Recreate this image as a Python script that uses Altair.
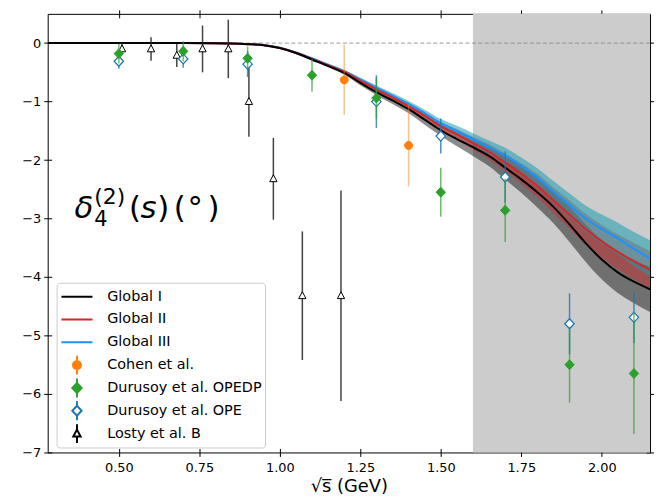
import altair as alt
import pandas as pd

# ---------------- data ----------------
curve_x = [0.279, 0.5, 0.7, 0.8, 0.85, 0.9, 0.95, 1.0, 1.05, 1.1, 1.15, 1.2, 1.25, 1.3, 1.35, 1.4,
           1.45, 1.5, 1.55, 1.6, 1.65, 1.7, 1.75, 1.8, 1.85, 1.9, 1.95, 2.0, 2.05, 2.1, 2.15]
global1 = [0, 0, 0, -0.002, -0.007, -0.018, -0.035, -0.085, -0.17, -0.28, -0.39, -0.51, -0.68, -0.84,
           -0.98, -1.13, -1.31, -1.49, -1.64, -1.78, -1.93, -2.13, -2.33, -2.55, -2.80, -3.10, -3.42,
           -3.70, -3.92, -4.08, -4.21]
global2 = [0, 0, 0, -0.002, -0.007, -0.018, -0.035, -0.085, -0.165, -0.27, -0.38, -0.49, -0.64, -0.79,
           -0.93, -1.08, -1.24, -1.42, -1.56, -1.71, -1.86, -2.04, -2.23, -2.44, -2.69, -2.93, -3.18,
           -3.39, -3.57, -3.73, -3.88]
global3 = [0, 0, 0, -0.002, -0.007, -0.017, -0.033, -0.08, -0.16, -0.26, -0.37, -0.48, -0.62, -0.76,
           -0.90, -1.04, -1.20, -1.37, -1.50, -1.64, -1.78, -1.92, -2.10, -2.30, -2.54, -2.77, -3.00,
           -3.18, -3.34, -3.52, -3.68]

band_x = [0.95, 1.0, 1.05, 1.1, 1.15, 1.2, 1.25, 1.3, 1.35, 1.4, 1.45, 1.5, 1.55, 1.6, 1.65, 1.7,
          1.75, 1.8, 1.85, 1.9, 1.95, 2.0, 2.05, 2.1, 2.15]
g1_lo = [-0.040, -0.095, -0.185, -0.30, -0.415, -0.54, -0.72, -0.89, -1.04, -1.20, -1.395, -1.59, -1.765,
         -1.93, -2.105, -2.33, -2.56, -2.81, -3.08, -3.40, -3.74, -4.04, -4.275, -4.45, -4.60]
g1_hi = [-0.030, -0.075, -0.155, -0.26, -0.365, -0.48, -0.64, -0.79, -0.92, -1.06, -1.225, -1.39, -1.515,
         -1.63, -1.755, -1.93, -2.10, -2.29, -2.52, -2.80, -3.10, -3.36, -3.565, -3.71, -3.82]
g2_lo = [-0.04, -0.095, -0.177, -0.285, -0.40, -0.515, -0.67, -0.825, -0.975, -1.13, -1.30, -1.49, -1.65,
         -1.82, -1.99, -2.19, -2.405, -2.64, -2.91, -3.17, -3.44, -3.67, -3.865, -4.04, -4.20]
g2_hi = [-0.03, -0.075, -0.153, -0.255, -0.36, -0.465, -0.61, -0.755, -0.885, -1.03, -1.18, -1.35, -1.47,
         -1.60, -1.73, -1.89, -2.055, -2.24, -2.47, -2.69, -2.92, -3.11, -3.275, -3.42, -3.56]
g3_lo = [-0.038, -0.09, -0.172, -0.275, -0.39, -0.505, -0.65, -0.795, -0.945, -1.09, -1.26, -1.44, -1.585,
         -1.74, -1.895, -2.05, -2.245, -2.46, -2.72, -2.97, -3.225, -3.43, -3.61, -3.81, -3.99]
g3_hi = [-0.028, -0.07, -0.148, -0.245, -0.35, -0.455, -0.59, -0.725, -0.855, -0.99, -1.14, -1.30, -1.415,
         -1.54, -1.665, -1.79, -1.955, -2.14, -2.36, -2.57, -2.775, -2.93, -3.07, -3.23, -3.37]

cohen_x = [1.2, 1.4]
cohen_y = [-0.63, -1.75]
cohen_e = [0.6, 0.7]

opedp_x = [0.5, 0.7, 0.9, 1.1, 1.3, 1.5, 1.7, 1.9, 2.1]
opedp_y = [-0.18, -0.14, -0.26, -0.55, -0.94, -2.55, -2.86, -5.50, -5.65]
opedp_e = [0.17, 0.17, 0.2, 0.28, 0.35, 0.42, 0.54, 0.65, 1.03]

ope_x = [0.5, 0.7, 0.9, 1.3, 1.5, 1.7, 1.9, 2.1]
ope_y = [-0.31, -0.27, -0.36, -1.0, -1.59, -2.29, -4.80, -4.69]
ope_e = [0.13, 0.15, 0.22, 0.45, 0.3, 0.44, 0.52, 0.44]

losty_x = [0.51, 0.60, 0.68, 0.76, 0.84, 0.904, 0.98, 1.07, 1.19]
losty_y = [-0.1, -0.1, -0.21, -0.1, -0.1, -1.0, -2.32, -4.32, -4.32]
losty_e = [0.1, 0.2, 0.2, 0.4, 0.5, 0.6, 0.7, 1.1, 1.8]

shade_x = [1.6, 2.15]
shade_y = [-7, 0.5]
zero_y = [0]

x_ticks = [0.5, 0.75, 1.0, 1.25, 1.5, 1.75, 2.0]
y_ticks = [-7, -6, -5, -4, -3, -2, -1, 0]

legend_names = ["Global I", "Global II", "Global III", "Cohen et al.",
                "Durusoy et al. OPEDP", "Durusoy et al. OPE", "Losty et al. B"]

# ---------------- styling ----------------
C_BLACK, C_RED, C_BLUE = "#000000", "#d62728", "#1e90ff"
C_ORANGE, C_GREEN, C_OPE = "#ff7f0e", "#2ca02c", "#1f77b4"

P_CIRCLE = "M-0.36,0A0.36,0.36,0,1,1,0.36,0A0.36,0.36,0,1,1,-0.36,0Z"
P_DIAMOND = "M0,-0.45L0.42,0L0,0.45L-0.42,0Z"
P_TRI = "M0,-0.36L0.33,0.26L-0.33,0.26Z"
BAR_C = "M0,-0.85L0,-0.36M0,0.36L0,0.85"
BAR_D = "M0,-0.85L0,-0.45M0,0.45L0,0.85"
BAR_T = "M0,-0.85L0,-0.36M0,0.26L0,0.85"
P_LINE = "M-1.4,0L1.4,0"

legend_strokes = [C_BLACK, C_RED, C_BLUE, C_ORANGE, C_GREEN, C_OPE, C_BLACK]
legend_fills = ["transparent", "transparent", "transparent", C_ORANGE, C_GREEN, "white", "white"]
legend_paths = [P_LINE, P_LINE, P_LINE, P_CIRCLE + BAR_C, P_DIAMOND + BAR_D, P_DIAMOND + BAR_D, P_TRI + BAR_T]
legend_widths = [2, 2, 2, 1.2, 1.2, 1.2, 1.0]

FONT = "DejaVu Sans"
XS = alt.Scale(domain=[0.279, 2.15], nice=False, zero=False)
YS = alt.Scale(domain=[-7, 0.5], nice=False, zero=False)


def xaxis(orient, labels, offset, tick, title=None):
    kw = dict(orient=orient, values=x_ticks, format=".2f", labels=labels, offset=offset,
              tickSize=tick, domain=False, grid=False, tickColor="black", tickWidth=1,
              labelFontSize=13, labelColor="black", labelFont=FONT, labelPadding=5,
              titleFontSize=18, titleFontWeight="normal", titleColor="black", titleFont=FONT,
              titlePadding=3, title=title)
    return alt.Axis(**kw)


def yaxis(orient, labels, offset, tick):
    return alt.Axis(orient=orient, values=y_ticks, format="d", labels=labels, offset=offset,
                    tickSize=tick, domain=False, grid=False, tickColor="black", tickWidth=1,
                    labelFontSize=13, labelColor="black", labelFont=FONT, labelPadding=3,
                    title=None)


# ---------------- frames ----------------
curve_df = pd.DataFrame({"x": curve_x, "g1": global1, "g2": global2, "g3": global3})
band_df = pd.DataFrame({"x": band_x, "g1_lo": g1_lo, "g1_hi": g1_hi, "g2_lo": g2_lo,
                        "g2_hi": g2_hi, "g3_lo": g3_lo, "g3_hi": g3_hi})
shade_df = pd.DataFrame({"x0": [shade_x[0]], "x1": [shade_x[1]], "y0": [shade_y[0]], "y1": [shade_y[1]]})
zero_df = pd.DataFrame({"y": zero_y})

layers = []

layers.append(alt.Chart(shade_df).mark_rect(color="#cccccc").encode(
    x=alt.X("x0:Q", scale=XS, axis=xaxis("bottom", True, 0, 4, "√s̅ (GeV)")), x2="x1:Q",
    y=alt.Y("y0:Q", scale=YS, axis=yaxis("left", True, 0, 4)), y2="y1:Q"))

layers.append(alt.Chart(zero_df).mark_rule(color="gray", strokeDash=[4, 2.5], strokeWidth=0.8).encode(
    y=alt.Y("y:Q", scale=YS, axis=None)))

layers.append(alt.Chart(band_df).mark_area(color="black", opacity=0.45, clip=True, interpolate="monotone").encode(
    x=alt.X("x:Q", scale=XS, axis=xaxis("bottom", False, -4, 4)),
    y=alt.Y("g1_lo:Q", scale=YS, axis=yaxis("left", False, -4, 4)), y2="g1_hi:Q"))
layers.append(alt.Chart(band_df).mark_area(color=C_RED, opacity=0.45, clip=True, interpolate="monotone").encode(
    x=alt.X("x:Q", scale=XS, axis=xaxis("top", False, -4, 8)),
    y=alt.Y("g2_lo:Q", scale=YS, axis=yaxis("right", False, -4, 8)), y2="g2_hi:Q"))
layers.append(alt.Chart(band_df).mark_area(color="#1a9fb0", opacity=0.55, clip=True, interpolate="monotone").encode(
    x=alt.X("x:Q", scale=XS, axis=None),
    y=alt.Y("g3_lo:Q", scale=YS, axis=None), y2="g3_hi:Q"))

for col, colr in [("g3", C_BLUE), ("g2", C_RED), ("g1", C_BLACK)]:
    layers.append(alt.Chart(curve_df).mark_line(color=colr, strokeWidth=2, clip=True,
                                                interpolate="monotone").encode(
        x=alt.X("x:Q", scale=XS, axis=None), y=alt.Y(f"{col}:Q", scale=YS, axis=None)))


def series(xs, ys, es, stroke, fill, bar_color, bar_op, path, sw):
    df = pd.DataFrame({"x": xs, "y": ys, "e": es})
    bars = alt.Chart(df).transform_calculate(lo="datum.y - datum.e", hi="datum.y + datum.e").mark_rule(
        color=bar_color, opacity=bar_op, strokeWidth=1.5).encode(
        x=alt.X("x:Q", scale=XS, axis=None), y=alt.Y("lo:Q", scale=YS, axis=None), y2="hi:Q")
    pts = alt.Chart(df).mark_point(shape=path, size=500, filled=True, fill=fill, stroke=stroke,
                                   strokeWidth=sw, opacity=1).encode(
        x=alt.X("x:Q", scale=XS, axis=None), y=alt.Y("y:Q", scale=YS, axis=None))
    return [bars, pts]


layers += series(losty_x, losty_y, losty_e, C_BLACK, "white", "#222222", 0.85, P_TRI, 1)
layers += series(cohen_x, cohen_y, cohen_e, C_ORANGE, C_ORANGE, C_ORANGE, 0.5, P_CIRCLE, 1)
layers += series(ope_x, ope_y, ope_e, C_OPE, "white", C_OPE, 0.8, P_DIAMOND, 1.3)
layers += series(opedp_x, opedp_y, opedp_e, C_GREEN, C_GREEN, C_GREEN, 0.7, P_DIAMOND, 1)

# legend carrier (clipped out of view)
leg = alt.Legend(title=None, orient="none", legendX=9, legendY=271, symbolSize=500,
                 labelFontSize=14.5, labelFont=FONT, labelColor="black",
                 labelOffset=18, symbolOffset=5, rowPadding=1, padding=3, clipHeight=22,
                 fillColor="white", strokeColor="#cccccc", cornerRadius=3, symbolOpacity=1)
layers.append(alt.Chart(pd.DataFrame({"series": legend_names})).mark_point(
    clip=True, opacity=1, filled=False).encode(
    x=alt.value(-500), y=alt.value(-500),
    stroke=alt.Stroke("series:N", scale=alt.Scale(domain=legend_names, range=legend_strokes), legend=leg),
    fill=alt.Fill("series:N", scale=alt.Scale(domain=legend_names, range=legend_fills), legend=leg),
    shape=alt.Shape("series:N", scale=alt.Scale(domain=legend_names, range=legend_paths), legend=leg),
    strokeWidth=alt.StrokeWidth("series:N", scale=alt.Scale(domain=legend_names, range=legend_widths),
                                legend=leg)))

# annotation  delta_4^(2)(s) (deg)
ann_text = ["δ", "(2)", "4", "(", "s", ")", "(", "°", ")"]
ann_px = [27, 47, 47, 82, 93.5, 110.5, 127, 141, 161]
ann_py = [206, 192, 214, 206, 206, 206, 206, 206, 206]
ann_size = [31, 22, 21, 31, 31, 31, 31, 31, 31]
ann_style = ["italic", "normal", "normal", "normal", "italic", "normal", "normal", "normal", "normal"]
for t, px, py, fs, st in zip(ann_text, ann_px, ann_py, ann_size, ann_style):
    layers.append(alt.Chart(pd.DataFrame({"t": [t]})).mark_text(
        align="left", baseline="alphabetic", fontSize=fs, fontStyle=st, font=FONT, color="black").encode(
        x=alt.value(px), y=alt.value(py), text="t:N"))

chart = alt.layer(*layers).resolve_axis(x="independent", y="independent").properties(
    width=607, height=442,
    autosize=alt.AutoSizeParams(type="none"),
    padding={"left": 40, "top": 4, "right": 4, "bottom": 45},
    background="white",
).configure_view(stroke="black", strokeWidth=1)

chart.save("out.html", embed_options={"renderer": "svg", "actions": False})
